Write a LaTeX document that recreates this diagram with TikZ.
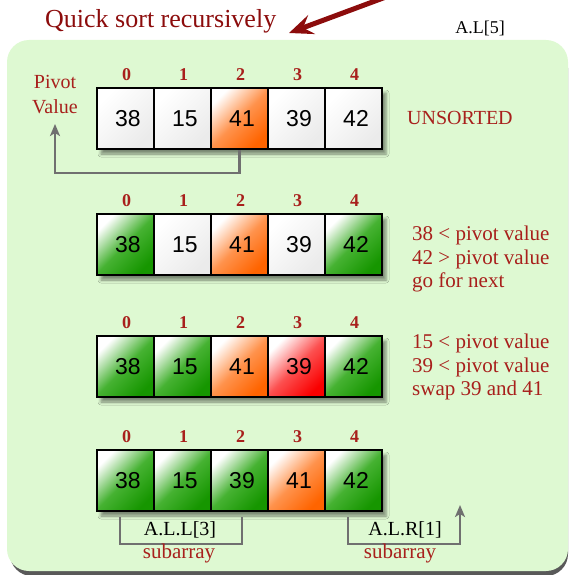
\documentclass[tikz,border=0pt]{standalone}
\usepackage{fontspec}
\setmainfont{Liberation Serif}
\newfontfamily\cellfont{Liberation Sans}
\usetikzlibrary{shadows.blur,arrows.meta,calc}
\definecolor{bggreen}{RGB}{222,249,210}
\definecolor{labelred}{RGB}{168,32,28}
\definecolor{titlered}{RGB}{140,12,12}
\definecolor{conngray}{RGB}{112,112,112}
\definecolor{cellorange}{RGB}{255,100,0}
\definecolor{cellgreen}{RGB}{22,150,0}
\definecolor{cellgreenmid}{RGB}{70,178,50}
\definecolor{cellred}{RGB}{250,0,0}
\definecolor{cellredmid}{RGB}{252,80,80}
\begin{document}
\begin{tikzpicture}[x=1pt,y=-1pt,
  cellbox/.style={draw=black, line width=1.5pt, minimum width=57pt, minimum height=61pt,
    inner sep=0pt, font=\cellfont\fontsize{23}{23}\selectfont, text=black},
  wcell/.style={cellbox, top color=white, bottom color=black!8, shading angle=45},
  ocell/.style={cellbox, top color=white, bottom color=cellorange, middle color=cellorange!70!white, shading angle=45},
  gcell/.style={cellbox, top color=white, bottom color=cellgreen, middle color=cellgreenmid, shading angle=45},
  rcell/.style={cellbox, top color=white, bottom color=cellred, middle color=cellredmid, shading angle=45},
  idx/.style={text=labelred, font=\bfseries\fontsize{18}{18}\selectfont, inner sep=0pt},
  redtxt/.style={text=labelred, font=\fontsize{21}{23.5}\selectfont, inner sep=0pt, align=left},
  conn/.style={draw=conngray, line width=2.4pt},
  gtip/.style={-{Stealth[length=12pt,width=10pt,inset=3pt]}},
  rowshadow/.style={blur shadow={shadow xshift=4pt, shadow yshift=-5pt, shadow blur radius=3pt, shadow opacity=45}}
]
\useasboundingbox (0,0) rectangle (569,575);
\clip (0,0) rectangle (569,575);
% background panel
\fill[black!65, rounded corners=22pt] (10,46) rectangle (568,576);
\fill[bggreen, rounded corners=22pt] (7,40) rectangle (568,571);
% title and arrow
\node[anchor=base west, text=titlered, font=\fontsize{26}{26}\selectfont, inner sep=0pt] (title) at (45,28) {Quick sort recursively};
\coordinate (tstart) at (402,-9);
\coordinate (ttip) at (289,33);
\draw[titlered, line width=5pt, -{Stealth[length=24pt,width=20pt,inset=9pt]}] (tstart) -- (ttip);
\node[font=\fontsize{18}{18}\selectfont, inner sep=0pt] (al5) at (480,28) {A.L[5]};
% row shadows
\foreach \t in {88,214,336,450}
  \path[rowshadow] (97,\t) rectangle (382,\t+61);
% row 1
\foreach \c/\v/\s in {0/38/wcell,1/15/wcell,2/41/ocell,3/39/wcell,4/42/wcell}{
  \node[\s] (ra\c) at (125.5+57*\c,118.5) {\kern5pt\v};
  \node[idx] (ia\c) at (126.5+57*\c,75) {\c};
}
% row 2
\foreach \c/\v/\s in {0/38/gcell,1/15/wcell,2/41/ocell,3/39/wcell,4/42/gcell}{
  \node[\s] (rb\c) at (125.5+57*\c,244.5) {\kern5pt\v};
  \node[idx] (ib\c) at (126.5+57*\c,201) {\c};
}
% row 3
\foreach \c/\v/\s in {0/38/gcell,1/15/gcell,2/41/ocell,3/39/rcell,4/42/gcell}{
  \node[\s] (rc\c) at (125.5+57*\c,366.5) {\kern5pt\v};
  \node[idx] (ic\c) at (126.5+57*\c,323) {\c};
}
% row 4
\foreach \c/\v/\s in {0/38/gcell,1/15/gcell,2/39/gcell,3/41/ocell,4/42/gcell}{
  \node[\s] (rd\c) at (125.5+57*\c,480.5) {\kern5pt\v};
  \node[idx] (id\c) at (126.5+57*\c,437) {\c};
}
% pivot value
\node[text=labelred, font=\fontsize{20}{25}\selectfont, align=center, inner sep=0pt] (pv) at (55,95) {Pivot\\Value};
\coordinate (pvturn) at (55,173);
\coordinate (pvtip) at (55,124);
\draw[conn, gtip] (ra2.south) |- (pvturn) -- (pvtip);
% right texts
\node[text=labelred, font=\fontsize{20}{20}\selectfont, anchor=west, inner sep=0pt] (uns) at (407,118) {UNSORTED};
\node[redtxt, anchor=west] (tb) at (412,259) {38 < pivot value\\42 > pivot value\\go for next};
\node[redtxt, anchor=west] (tc) at (412,367) {15 < pivot value\\39 < pivot value\\swap 39 and 41};
% bottom sub arrays
\coordinate (la) at (120,517);
\coordinate (lbot) at (180,544);
\coordinate (lb) at (242,517);
\draw[conn] (la) |- (lbot) -| (lb);
\node[font=\fontsize{20}{20}\selectfont, inner sep=0pt] (all) at (180,530) {A.L.L[3]};
\node[text=labelred, font=\fontsize{21}{21}\selectfont, inner sep=0pt] (sl) at (179,553) {subarray};
\coordinate (ra) at (348,517);
\coordinate (rbot) at (405,544);
\coordinate (rtip) at (460,505);
\draw[conn, gtip] (ra) |- (rbot) -| (rtip);
\node[font=\fontsize{20}{20}\selectfont, inner sep=0pt] (alr) at (405,530) {A.L.R[1]};
\node[text=labelred, font=\fontsize{21}{21}\selectfont, inner sep=0pt] (sr) at (400,553) {subarray};
\end{tikzpicture}
\end{document}
